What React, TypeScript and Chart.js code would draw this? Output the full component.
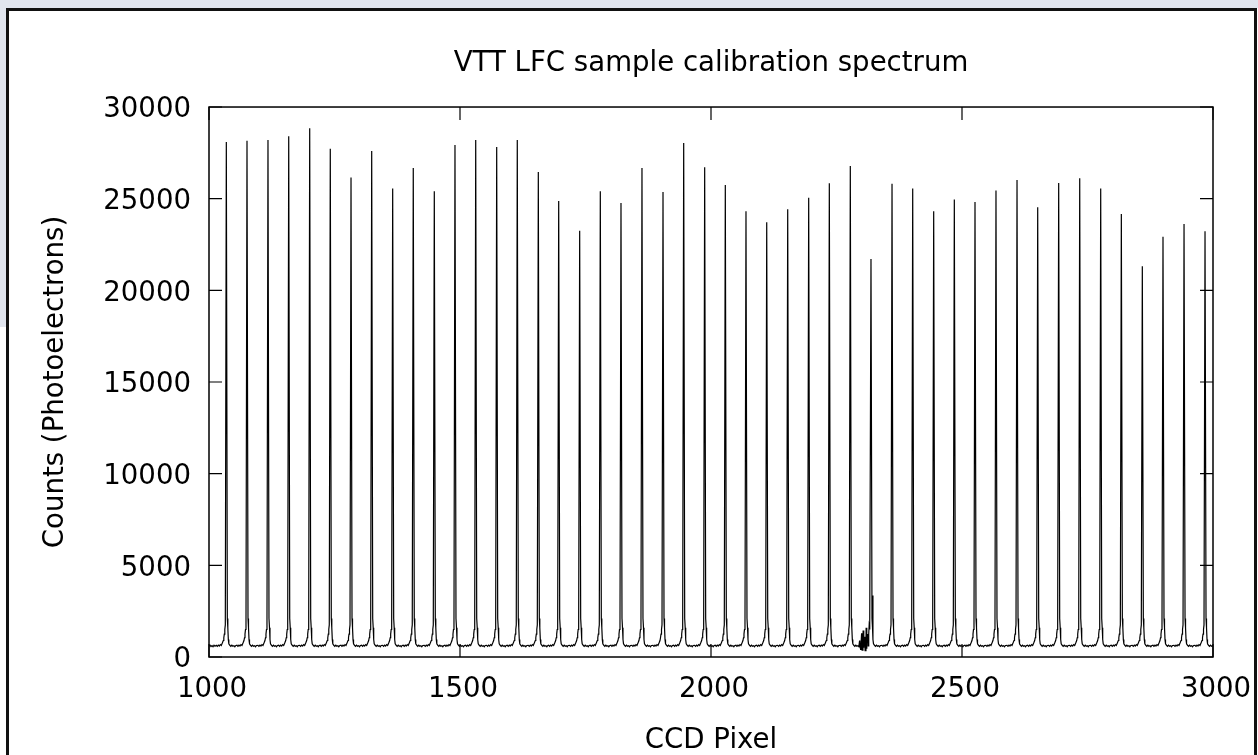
import React, { useEffect, useRef } from "react";
import { Chart, registerables } from "chart.js";

Chart.register(...registerables);

const TITLE = "VTT LFC sample calibration spectrum";
const X_LABEL = "CCD Pixel";
const Y_LABEL = "Counts (Photoelectrons)";
const X_TICKS = [1000, 1500, 2000, 2500, 3000];
const Y_TICKS = [0, 5000, 10000, 15000, 20000, 25000, 30000];

// Comb line centres (CCD pixel) and peak heights (photoelectrons)
const peakPixels = [
  1034.5, 1075.7, 1117.5, 1158.8, 1200.6, 1241.6, 1282.9, 1324.1, 1365.9, 1406.9,
  1448.8, 1490.0, 1531.3, 1573.1, 1614.1, 1656.0, 1696.6, 1738.4, 1779.5, 1820.7,
  1862.5, 1904.4, 1945.6, 1987.4, 2028.5, 2069.7, 2111.0, 2152.8, 2194.6, 2235.7,
  2277.5, 2318.7, 2360.6, 2401.8, 2443.6, 2484.7, 2525.9, 2567.7, 2609.6, 2650.8,
  2692.6, 2734.5, 2776.3, 2817.4, 2859.2, 2900.4, 2942.3, 2984.1,
];
const peakCounts = [
  28090, 28160, 28200, 28400, 28840, 27730, 26160, 27600, 25550, 26670,
  25400, 27930, 28200, 27820, 28200, 26450, 24870, 23250, 25400, 24760,
  26670, 25360, 28040, 26710, 25750, 24310, 23710, 24420, 25050, 25840,
  26780, 21710, 25820, 25550, 24310, 24950, 24820, 25440, 26020, 24530,
  25850, 26110, 25560, 24160, 21310, 22930, 23620, 23220,
];

// Shape of the floor around each line (offset from line centre, counts); offset 0 = the peak itself
const profileOffsets = [-20, -18, -16, -14, -12, -10, -8, -6, -5, -4, -3, -2, 0, 2, 3, 4, 5, 7, 9, 11, 13, 15, 17, 19];
const profileCounts = [640, 580, 650, 600, 680, 630, 760, 900, 1050, 1250, 1500, 1750, 0, 2100, 1600, 950, 720, 640, 580, 650, 590, 620, 560, 630];

// Floor before the first line
const leadPixels = [1000, 1002, 1004, 1006, 1008, 1010, 1012];
const leadCounts = [600, 650, 570, 620, 560, 640, 590];

// Noisy stretch and the spike beside the 2319 line
const noisePixels = [2296, 2298, 2300, 2301, 2303, 2304, 2306, 2307, 2309, 2310, 2312, 2313, 2315, 2322.5];
const noiseCounts = [900, 420, 1300, 380, 1450, 500, 1100, 350, 1600, 450, 1250, 600, 1700, 3350];

const FONT = "'DejaVu Sans', 'Liberation Sans', sans-serif";
const FONT_SIZE = 27.6;

function buildPoints() {
  const pts: { x: number; y: number }[] = [];
  leadPixels.forEach((x, i) => pts.push({ x, y: leadCounts[i] }));
  peakPixels.forEach((c, i) => {
    profileOffsets.forEach((o, j) => {
      pts.push({ x: c + o, y: o === 0 ? peakCounts[i] : profileCounts[j] });
    });
  });
  noisePixels.forEach((x, i) => pts.push({ x, y: noiseCounts[i] }));
  pts.sort((a, b) => a.x - b.x);
  return pts;
}

const framePlugin = {
  id: "gnuFrame",
  afterDatasetsDraw(chart: any) {
    const { ctx, chartArea } = chart;
    const { left, right, top, bottom } = chartArea;
    const xs = chart.scales.x;
    const ys = chart.scales.y;
    const tl = 13;
    ctx.save();
    ctx.strokeStyle = "#000";
    ctx.lineWidth = 1.5;
    ctx.strokeRect(left, top, right - left, bottom - top);
    ctx.lineWidth = 1.2;
    ctx.beginPath();
    X_TICKS.forEach((v) => {
      const px = xs.getPixelForValue(v);
      ctx.moveTo(px, bottom);
      ctx.lineTo(px, bottom - tl);
      ctx.moveTo(px, top);
      ctx.lineTo(px, top + tl);
    });
    Y_TICKS.forEach((v) => {
      const py = ys.getPixelForValue(v);
      ctx.moveTo(left, py);
      ctx.lineTo(left + tl, py);
      ctx.moveTo(right, py);
      ctx.lineTo(right - tl, py);
    });
    ctx.stroke();
    ctx.restore();
  },
};

export default function App() {
  const ref = useRef<HTMLCanvasElement | null>(null);

  useEffect(() => {
    if (!ref.current) return;
    const font = { family: FONT, size: FONT_SIZE, weight: "normal" as const };
    const chart = new Chart(ref.current, {
      type: "line",
      data: {
        datasets: [
          {
            data: buildPoints(),
            borderColor: "#000",
            borderWidth: 1.2,
            pointRadius: 0,
            tension: 0,
            fill: false,
          },
        ],
      },
      options: {
        animation: false,
        responsive: false,
        events: [],
        layout: { padding: { left: 0, right: 45, top: 0, bottom: 0 } },
        plugins: {
          legend: { display: false },
          tooltip: { enabled: false },
          title: {
            display: true,
            text: TITLE,
            color: "#000",
            font,
            fullSize: false,
            padding: { top: 47.6, bottom: 26.3 },
          },
        },
        scales: {
          x: {
            type: "linear",
            min: 1000,
            max: 3000,
            afterBuildTicks: (s: any) => {
              s.ticks = X_TICKS.map((v) => ({ value: v }));
            },
            afterFit: (s: any) => {
              s.height = 98;
              s.paddingLeft = 0;
              s.paddingRight = 0;
            },
            grid: { display: true, drawOnChartArea: false, drawTicks: false },
            border: { display: false },
            ticks: {
              color: "#000",
              font,
              padding: 16,
              labelOffset: 3,
              maxRotation: 0,
              autoSkip: false,
              callback: (v: any) => String(v),
            },
            title: { display: true, text: X_LABEL, color: "#000", font, padding: { top: 0, bottom: -2 } },
          },
          y: {
            type: "linear",
            min: 0,
            max: 30000,
            afterBuildTicks: (s: any) => {
              s.ticks = Y_TICKS.map((v) => ({ value: v }));
            },
            afterFit: (s: any) => {
              s.width = 209;
              s.paddingTop = 0;
              s.paddingBottom = 0;
            },
            grid: { display: true, drawOnChartArea: false, drawTicks: false },
            border: { display: false },
            ticks: {
              color: "#000",
              font,
              padding: 18,
              labelOffset: 3,
              autoSkip: false,
              callback: (v: any) => String(v),
            },
            title: { display: true, text: Y_LABEL, color: "#000", font, padding: { top: 39, bottom: 0 } },
          },
        },
      },
      plugins: [framePlugin],
    });
    return () => chart.destroy();
  }, []);

  return (
    <div style={{ position: "fixed", left: 0, top: 0, width: 1258, height: 755, background: "#fff", overflow: "hidden" }}>
      <div style={{ position: "absolute", left: 0, top: 0, width: 1258, height: 8, background: "#e1e5ee" }} />
      <div style={{ position: "absolute", left: 0, top: 0, width: 6, height: 327, background: "#e1e5ee" }} />
      <div
        style={{
          position: "absolute",
          left: 6,
          top: 8,
          width: 1251,
          height: 820,
          border: "3px solid #111",
          boxSizing: "border-box",
        }}
      />
      <canvas ref={ref} width={1258} height={755} style={{ position: "absolute", left: 0, top: 0 }} />
    </div>
  );
}
